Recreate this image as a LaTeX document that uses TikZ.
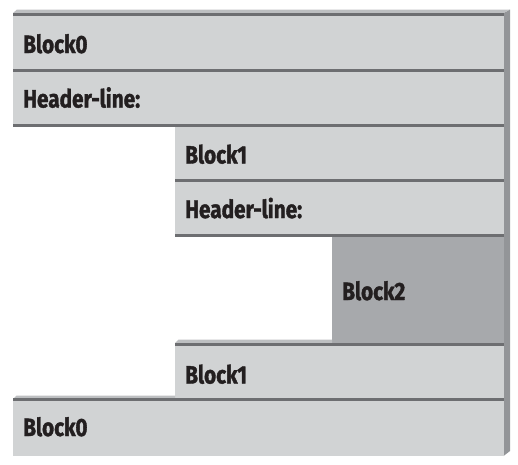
\documentclass[tikz,border=0pt]{standalone}
\usepackage{fontspec}
\setmainfont{Fira Sans}[FakeStretch=0.83, BoldFeatures={FakeBold=1.5}]
\definecolor{facegray}{HTML}{D1D3D4}
\definecolor{edgegray}{HTML}{6D6E71}
\definecolor{bevelgray}{HTML}{BDBFC1}
\definecolor{sidegray}{HTML}{939598}
\definecolor{deepgray}{HTML}{A7A9AC}
\definecolor{inkblack}{HTML}{231F20}
\tikzset{
  face/.style={fill=facegray, draw=none},
  deepface/.style={fill=deepgray, draw=none},
  bevel/.style={fill=bevelgray, draw=none},
  side/.style={fill=sidegray, draw=none},
  edgeline/.style={draw=edgegray, line width=3pt},
  label/.style={anchor=base west, inner sep=0pt, text=inkblack,
    font=\bfseries\fontsize{25}{25}\selectfont}
}
\begin{document}
\begin{tikzpicture}[x=1pt,y=-1pt]
\useasboundingbox (0,0) rectangle (518,464);
% right side face and top bevel
\fill[side] (503.5,13) -- (510,9.5) -- (510,451) -- (503.5,456) -- cycle;
\fill[bevel] (13,13) -- (17,9.5) -- (510,9.5) -- (503.5,13) -- cycle;
% faces
\fill[face] (13,13) rectangle (503.5,125);
\fill[face] (175,125) rectangle (503.5,236);
\fill[deepface] (332,236) rectangle (503.5,344);
\fill[face] (175,344) rectangle (503.5,399);
\fill[face] (13,399) rectangle (503.5,456);
% step bevels
\fill[bevel] (175,343) -- (178.5,339.5) -- (332,339.5) -- (332,343) -- cycle;
\fill[bevel] (13,399) -- (16.5,395.5) -- (175,395.5) -- (175,399) -- cycle;
% edge lines
\coordinate (l0a) at (13,14.5);   \coordinate (l0b) at (503.5,14.5);
\coordinate (l1a) at (13,70);     \coordinate (l1b) at (503.5,70);
\coordinate (l2a) at (13,125.5);  \coordinate (l2b) at (503.5,125.5);
\coordinate (l3a) at (175,180);   \coordinate (l3b) at (503.5,180);
\coordinate (l4a) at (175,235.5); \coordinate (l4b) at (503.5,235.5);
\coordinate (l5a) at (175,344.5); \coordinate (l5b) at (503.5,344.5);
\coordinate (l6a) at (13,399.5);  \coordinate (l6b) at (503.5,399.5);
\foreach \i in {0,...,6} { \draw[edgeline] (l\i a) -- (l\i b); }
% labels
\node[label] (b0top) at (23,53) {Block0};
\node[label] (h0) at (23,107.5) {Header-line:};
\node[label] (b1top) at (185,163.5) {Block1};
\node[label] (h1) at (185,218) {Header-line:};
\node[label] (b2) at (342,300) {Block2};
\node[label] (b1bot) at (185,383.5) {Block1};
\node[label] (b0bot) at (23,436) {Block0};
\end{tikzpicture}
\end{document}
